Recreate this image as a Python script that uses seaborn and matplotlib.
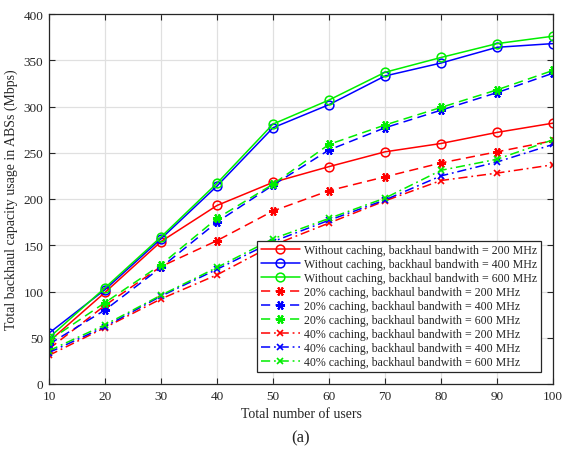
import matplotlib
matplotlib.use("Agg")
import matplotlib.pyplot as plt
import seaborn as sns
import pandas as pd

# Number of users on the x axis
users = [10, 20, 30, 40, 50, 60, 70, 80, 90, 100]

# Backhaul capacity usage (Mbps) without caching
nocache_200 = [46, 99, 154, 193, 218, 235, 251, 260, 272, 282]
nocache_400 = [55, 102, 157, 214, 277, 302, 333, 347, 364, 368]
nocache_600 = [50, 104, 159, 217, 281, 307, 337, 353, 368, 376]

# 20% caching
cache20_200 = [38, 85, 127, 155, 187, 209, 224, 239, 251, 263]
cache20_400 = [43, 80, 126, 175, 215, 253, 277, 296, 315, 336]
cache20_600 = [47, 88, 129, 179, 216, 259, 280, 299, 318, 339]

# 40% caching
cache40_200 = [31, 61, 92, 118, 150, 174, 198, 220, 228, 237]
cache40_400 = [34, 62, 95, 124, 154, 177, 199, 225, 240, 259]
cache40_600 = [36, 64, 96, 126, 157, 179, 201, 231, 243, 264]

labels = [
    "Without caching, backhaul bandwith = 200 MHz",
    "Without caching, backhaul bandwith = 400 MHz",
    "Without caching, backhaul bandwith = 600 MHz",
    "20% caching, backhaul bandwith = 200 MHz",
    "20% caching, backhaul bandwith = 400 MHz",
    "20% caching, backhaul bandwith = 600 MHz",
    "40% caching, backhaul bandwith = 200 MHz",
    "40% caching, backhaul bandwith = 400 MHz",
    "40% caching, backhaul bandwith = 600 MHz",
]
series = [nocache_200, nocache_400, nocache_600,
          cache20_200, cache20_400, cache20_600,
          cache40_200, cache40_400, cache40_600]

colors = ["#ff0000", "#0000ff", "#00ee00"] * 3
asterisk = (6, 2, 90)
styles = ([("-", "o")] * 3
          + [((0, (6, 3.5)), asterisk)] * 3
          + [((0, (6, 2.5, 1.2, 2.5)), "x")] * 3)

rows = []
for lab, vals in zip(labels, series):
    for u, v in zip(users, vals):
        rows.append({"users": u, "usage": v, "series": lab})
df = pd.DataFrame(rows)

sns.set_theme(style="white")
plt.rcParams["font.family"] = ["Liberation Serif", "DejaVu Serif"]

fig = plt.figure(figsize=(5.64, 4.56), dpi=100)
ax = fig.add_axes([49 / 564, 1 - 385 / 456, 504 / 564, 370 / 456])

for lab, col, (ls, mk) in zip(labels, colors, styles):
    sub = df[df["series"] == lab]
    if mk == "o":
        ms, mew = 6.3, 1.1
    elif mk == "x":
        ms, mew = 5.0, 1.2
    else:
        ms, mew = 6.5, 1.5
    sns.lineplot(data=sub, x="users", y="usage", ax=ax, color=col,
                 linestyle=ls, marker=mk, markersize=ms,
                 markerfacecolor="none" if mk == "o" else col,
                 markeredgecolor=col, markeredgewidth=mew,
                 linewidth=1.1, label=lab, legend=False)

ax.set_xlim(10, 100)
ax.set_ylim(0, 400)
ax.set_xticks(range(10, 101, 10))
ax.set_yticks(range(0, 401, 50))
ax.grid(True, color="#e0e0e0", linewidth=0.9)
ax.set_axisbelow(True)
for sp in ax.spines.values():
    sp.set_color("#262626")
    sp.set_linewidth(0.9)
ax.tick_params(direction="in", length=4, width=0.8, colors="#262626",
               labelcolor="#262626", labelsize=9.5, top=True, right=True,
               bottom=True, left=True, pad=4)

ax.set_xlabel("Total number of users", fontsize=10, color="#262626", labelpad=4)
ax.set_ylabel("Total backhaul capacity usage in ABSs (Mbps)", fontsize=10,
              color="#262626", labelpad=4)

handles, hlabels = ax.get_legend_handles_labels()
leg = ax.legend(handles, hlabels, loc="lower right", bbox_to_anchor=(492 / 504, 12 / 370),
                fontsize=8.6, frameon=True, fancybox=False, edgecolor="#262626",
                framealpha=1, handlelength=3.3, handletextpad=0.35,
                labelspacing=0.17, borderpad=0.3, borderaxespad=0)
leg.get_frame().set_linewidth(0.9)
for t in leg.get_texts():
    t.set_color("#262626")

fig.text(0.5 * (49 + 553) / 564, 1 - 438 / 456, "(a)", ha="center", va="center",
         fontsize=12, color="#262626")

fig.savefig("out.png", dpi=100)
